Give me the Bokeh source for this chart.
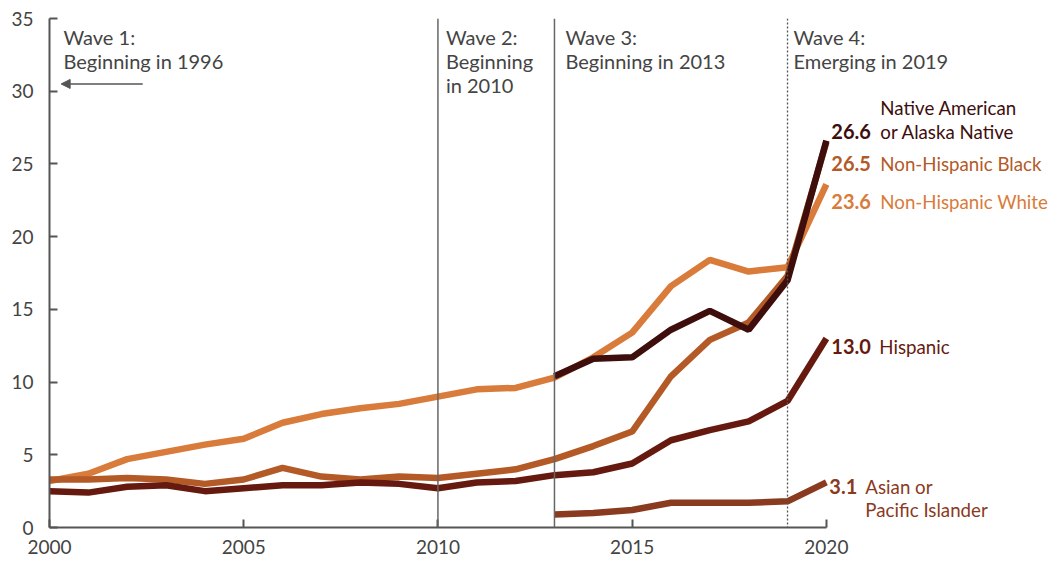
from bokeh.plotting import figure
from bokeh.models import Span, Arrow, NormalHead, Label, FixedTicker
from bokeh.embed import file_html
from bokeh.resources import INLINE

years_all = list(range(2000, 2021))
years_late = list(range(2013, 2021))

white = [3.2, 3.7, 4.7, 5.2, 5.7, 6.1, 7.2, 7.8, 8.2, 8.5, 9.0, 9.5, 9.6, 10.3,
         11.7, 13.4, 16.6, 18.4, 17.6, 17.9, 23.6]
black = [3.3, 3.3, 3.4, 3.3, 3.0, 3.3, 4.1, 3.5, 3.3, 3.5, 3.4, 3.7, 4.0, 4.7,
         5.6, 6.6, 10.4, 12.9, 14.1, 17.3, 26.5]
hispanic = [2.5, 2.4, 2.8, 2.9, 2.5, 2.7, 2.9, 2.9, 3.1, 3.0, 2.7, 3.1, 3.2, 3.6,
            3.8, 4.4, 6.0, 6.7, 7.3, 8.7, 13.0]
native = [10.4, 11.6, 11.7, 13.6, 14.9, 13.6, 17.0, 26.6]
asian = [0.9, 1.0, 1.2, 1.7, 1.7, 1.7, 1.8, 3.1]

x_ticks = [2000, 2005, 2010, 2015, 2020]
y_ticks = [0, 5, 10, 15, 20, 25, 30, 35]
wave_years = [2010, 2013, 2019]

C_WHITE = "#D97B3A"
C_BLACK = "#B35A27"
C_HISP = "#661A0F"
C_NATIVE = "#3D0E0C"
C_ASIAN = "#8A3A1E"
GRAY = "#555555"
TXT = "#444444"
FONT = "Lato"
FS = "20px"
NFS = "18.7px"
TFS = "19px"

TOP = 18
p = figure(width=1050, height=562, output_backend="svg", toolbar_location=None,
           x_range=(2000, 2025.77), y_range=(0, 35), frame_height=509,
           min_border_left=49, min_border_right=0, min_border_top=TOP, min_border_bottom=0)
p.outline_line_color = None
p.xgrid.visible = False
p.ygrid.visible = False

for ax in (p.xaxis[0], p.yaxis[0]):
    ax.axis_line_color = GRAY
    ax.axis_line_width = 2
    ax.major_tick_line_color = GRAY
    ax.major_tick_line_width = 2
    ax.major_tick_in = 8
    ax.major_tick_out = 0
    ax.minor_tick_line_color = None
    ax.major_label_text_font = FONT
    ax.major_label_text_font_size = TFS
    ax.major_label_text_color = TXT

p.xaxis.ticker = FixedTicker(ticks=x_ticks)
p.xaxis.bounds = (2000, 2020)
p.xaxis.major_label_standoff = 12
p.yaxis.ticker = FixedTicker(ticks=y_ticks)
p.yaxis.major_label_standoff = 16

for yr in wave_years[:2]:
    p.add_layout(Span(location=yr, dimension="height", line_color="#666666", line_width=1.5))
p.add_layout(Span(location=wave_years[2], dimension="height", line_color="#555555",
                  line_width=1.3, line_dash="2 2"))

lw = 6.5
p.line(years_all, white, line_color=C_WHITE, line_width=lw)
p.line(years_all, black, line_color=C_BLACK, line_width=lw)
p.line(years_all, hispanic, line_color=C_HISP, line_width=lw)
p.line(years_late, asian, line_color=C_ASIAN, line_width=lw)
p.line(years_late, native, line_color=C_NATIVE, line_width=lw)


def lab(x, py, text, color=TXT, bold=False, x_off=0, size=FS):
    # py: vertical pixel position of the text centre, measured from the top of the figure
    p.add_layout(Label(x=x, y=35, text=text, text_font=FONT, text_font_size=size,
                       text_color=color, text_font_style="bold" if bold else "normal",
                       text_baseline="middle", text_align="left",
                       x_offset=x_off, y_offset=-(py - TOP)))


lab(2000, 36, "Wave 1:", x_off=14)
lab(2000, 60, "Beginning in 1996", x_off=14)
lab(2010, 36, "Wave 2:", x_off=8)
lab(2010, 60, "Beginning", x_off=8)
lab(2010, 84, "in 2010", x_off=8)
lab(2013, 36, "Wave 3:", x_off=11)
lab(2013, 60, "Beginning in 2013", x_off=11)
lab(2019, 36, "Wave 4:", x_off=6)
lab(2019, 60, "Emerging in 2019", x_off=6)

p.add_layout(Arrow(end=NormalHead(size=9, fill_color=GRAY, line_color=GRAY, line_width=1),
                   x_start=2002.4, y_start=30.5, x_end=2000.3, y_end=30.5,
                   line_color=GRAY, line_width=1.5))

NX = 54
lab(2020, 107, "Native American", C_NATIVE, x_off=NX, size=NFS)
lab(2020, 131, f"{native[-1]:.1f}", C_NATIVE, bold=True, x_off=5)
lab(2020, 131, "or Alaska Native", C_NATIVE, x_off=NX, size=NFS)
lab(2020, 163, f"{black[-1]:.1f}", C_BLACK, bold=True, x_off=5)
lab(2020, 163, "Non-Hispanic Black", C_BLACK, x_off=NX, size=NFS)
lab(2020, 201, f"{white[-1]:.1f}", C_WHITE, bold=True, x_off=5)
lab(2020, 201, "Non-Hispanic White", C_WHITE, x_off=NX, size=NFS)
lab(2020, 346, f"{hispanic[-1]:.1f}", C_HISP, bold=True, x_off=5)
lab(2020, 346, "Hispanic", C_HISP, x_off=53, size=NFS)
lab(2020, 486, f"{asian[-1]:.1f}", C_ASIAN, bold=True, x_off=3)
lab(2020, 486, "Asian or", C_ASIAN, x_off=39, size=NFS)
lab(2020, 509, "Pacific Islander", C_ASIAN, x_off=39, size=NFS)

open("out.html", "w").write(file_html(p, INLINE))
